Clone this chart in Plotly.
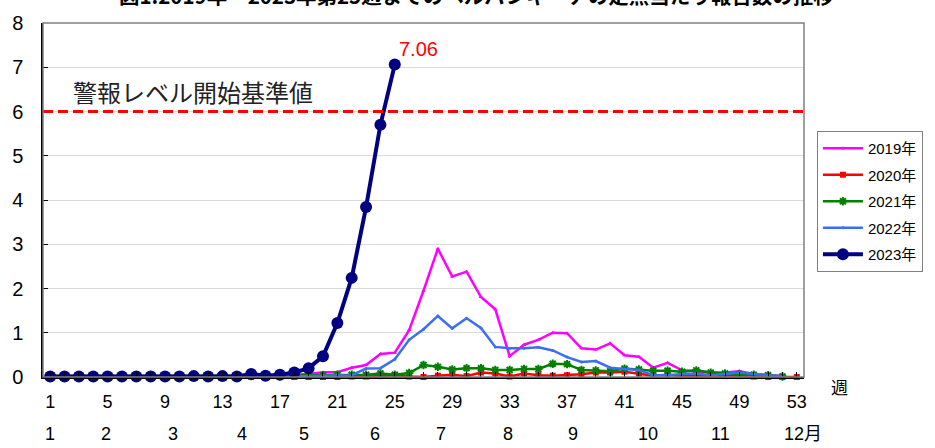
import plotly.graph_objects as go

weeks_2019 = list(range(1, 53))
vals_2019 = [0.01, 0.01, 0.01, 0.01, 0.01, 0.01, 0.01, 0.01, 0.01, 0.02,
             0.02, 0.02, 0.02, 0.02, 0.03, 0.03, 0.04, 0.05, 0.07, 0.11,
             0.11, 0.21, 0.27, 0.52, 0.55, 1.06, 1.95, 2.90, 2.27, 2.38,
             1.81, 1.53, 0.47, 0.73, 0.84, 1.00, 0.99, 0.65, 0.62, 0.76,
             0.49, 0.46, 0.21, 0.32, 0.15, 0.13, 0.10, 0.10, 0.13, 0.07,
             0.04, 0.02]

weeks_2020 = list(range(1, 54))
vals_2020 = [0.01, 0.01, 0.01, 0.01, 0.01, 0.01, 0.01, 0.01, 0.01, 0.01,
             0.01, 0.01, 0.01, 0.01, 0.01, 0.01, 0.01, 0.00, 0.00, 0.00,
             0.00, 0.01, 0.01, 0.02, 0.04, 0.01, 0.00, 0.03, 0.05, 0.02,
             0.10, 0.08, 0.01, 0.08, 0.04, 0.03, 0.04, 0.06, 0.10, 0.10,
             0.12, 0.08, 0.03, 0.05, 0.02, 0.03, 0.03, 0.02, 0.02, 0.01,
             0.00, 0.00, 0.00]

weeks_2021 = list(range(1, 53))
vals_2021 = [0.02, 0.02, 0.02, 0.02, 0.02, 0.02, 0.02, 0.02, 0.02, 0.02,
             0.02, 0.02, 0.02, 0.02, 0.02, 0.02, 0.02, 0.03, 0.04, 0.04,
             0.05, 0.05, 0.05, 0.08, 0.05, 0.09, 0.27, 0.23, 0.17, 0.20,
             0.20, 0.16, 0.16, 0.18, 0.18, 0.30, 0.29, 0.16, 0.15, 0.13,
             0.19, 0.17, 0.14, 0.14, 0.12, 0.15, 0.10, 0.08, 0.07, 0.05,
             0.04, 0.01]

weeks_2022 = list(range(1, 53))
vals_2022 = [0.01, 0.01, 0.01, 0.01, 0.01, 0.01, 0.01, 0.01, 0.01, 0.01,
             0.01, 0.01, 0.01, 0.01, 0.01, 0.01, 0.01, 0.01, 0.02, 0.03,
             0.04, 0.04, 0.19, 0.20, 0.40, 0.84, 1.08, 1.38, 1.10, 1.33,
             1.11, 0.68, 0.65, 0.65, 0.67, 0.60, 0.45, 0.34, 0.36, 0.21,
             0.18, 0.16, 0.04, 0.04, 0.07, 0.08, 0.04, 0.07, 0.10, 0.07,
             0.04, 0.01]

weeks_2023 = list(range(1, 26))
vals_2023 = [0.01, 0.01, 0.01, 0.01, 0.01, 0.01, 0.01, 0.01, 0.01, 0.01,
             0.02, 0.01, 0.02, 0.01, 0.07, 0.03, 0.05, 0.10, 0.20, 0.47,
             1.22, 2.24, 3.84, 5.70, 7.06]

week_ticks = [1, 5, 9, 13, 17, 21, 25, 29, 33, 37, 41, 45, 49, 53]
month_labels = ["1", "2", "3", "4", "5", "6", "7", "8", "9", "10", "11", "12月"]
month_weeks = [1.0, 4.9, 9.55, 14.35, 18.7, 23.6, 28.2, 32.85, 37.4, 42.65, 47.65, 53.4]

alert_level = 6
alert_text = "警報レベル開始基準値"
title_text = "図1.2019年～2023年第25週までのヘルパンギーナの定点当たり報告数の推移"

NUM_FONT = "Liberation Sans, Arial, Noto Sans CJK JP, sans-serif"
JP_FONT = "Noto Sans CJK JP, Liberation Sans, sans-serif"

fig = go.Figure()

series = [
    ("2019年", weeks_2019, vals_2019, "#FF00FF", 2.5, dict(symbol="triangle-up", size=4)),
    ("2020年", weeks_2020, vals_2020, "#FF0000", 2.5, dict(symbol="square", size=6)),
    ("2021年", weeks_2021, vals_2021, "#008000", 2.5,
     dict(symbol="asterisk-open", size=7, line=dict(width=2, color="#008000"))),
    ("2022年", weeks_2022, vals_2022, "#3C6EF5", 2.5, dict(symbol="circle", size=3)),
    ("2023年", weeks_2023, vals_2023, "#000080", 4, dict(symbol="circle", size=12)),
]
for name, xs, ys, color, lw, mk in series:
    mk = dict(mk)
    mk.setdefault("color", color)
    fig.add_trace(go.Scatter(
        x=xs, y=ys, name=name, mode="lines+markers",
        line=dict(color=color, width=lw), marker=mk,
        legendgroup=name, cliponaxis=False,
    ))

fig.add_shape(type="line", xref="paper", yref="y", x0=0, x1=1,
              y0=alert_level, y1=alert_level,
              line=dict(color="#FF0000", width=3, dash="10px,5px"))
fig.add_shape(type="rect", xref="paper", yref="paper", x0=0, x1=1, y0=0, y1=1,
              line=dict(color="#808080", width=1.5), layer="above")

fig.add_annotation(x=0.5, xref="x", y=alert_level, yref="y", text=alert_text,
                   showarrow=False, xanchor="left", yanchor="bottom",
                   xshift=28, yshift=1,
                   font=dict(family=JP_FONT, size=24, color="#222222"))
fig.add_annotation(x=weeks_2023[-1], xref="x", y=vals_2023[-1], yref="y",
                   text=f"{vals_2023[-1]:.2f}", showarrow=False,
                   xanchor="left", yanchor="bottom", xshift=2, yshift=3,
                   font=dict(family=NUM_FONT, size=20, color="#FF0000"))
fig.add_annotation(x=0.569, xref="paper", y=1.030, yref="paper", text="<b>" + title_text + "</b>",
                   showarrow=False, xanchor="center", yanchor="bottom",
                   font=dict(family=JP_FONT, size=20.5, color="#000000"))
fig.add_annotation(x=1.047, xref="paper", y=-0.028, yref="paper", text="週",
                   showarrow=False, xanchor="center", yanchor="middle",
                   font=dict(family=JP_FONT, size=17, color="#000000"))
for lbl, wk in zip(month_labels, month_weeks):
    fig.add_annotation(x=wk, xref="x", y=-0.1616, yref="paper", text=lbl,
                       showarrow=False, xanchor="center", yanchor="middle",
                       font=dict(family=NUM_FONT + ", Noto Sans CJK JP", size=18, color="#000000"))

fig.update_layout(
    width=935, height=448,
    margin=dict(l=42, r=131, t=18, b=71),
    paper_bgcolor="white", plot_bgcolor="white",
    showlegend=True,
    legend=dict(x=1.017, y=0.695, xanchor="left", yanchor="top",
                bordercolor="#808080", borderwidth=1, bgcolor="white",
                font=dict(family=NUM_FONT + ", Noto Sans CJK JP", size=15, color="#000000"),
                tracegroupgap=4, itemwidth=40),
    xaxis=dict(range=[0.5, 53.5], tickmode="array", tickvals=week_ticks,
               ticktext=[str(w) for w in week_ticks],
               showgrid=False, zeroline=False, showline=True, linecolor="#000000",
               linewidth=1.5, ticks="", ticklabelstandoff=8,
               tickfont=dict(family=NUM_FONT, size=18, color="#000000"),
               minor=dict(tickmode="linear", tick0=1, dtick=1, ticks="inside",
                          ticklen=5, tickcolor="#000000", showgrid=False)),
    yaxis=dict(range=[0, 8], tickmode="linear", tick0=0, dtick=1,
               showgrid=True, gridcolor="#D9D9D9", gridwidth=1,
               zeroline=False, showline=True, linecolor="#000000", linewidth=1.5,
               ticks="inside", ticklen=5, tickcolor="#000000",
               ticklabelstandoff=14,
               tickfont=dict(family=NUM_FONT, size=20, color="#000000")),
)

fig.write_html("out.html", config={"displayModeBar": False},
               post_script="document.body.style.margin='0px';")
